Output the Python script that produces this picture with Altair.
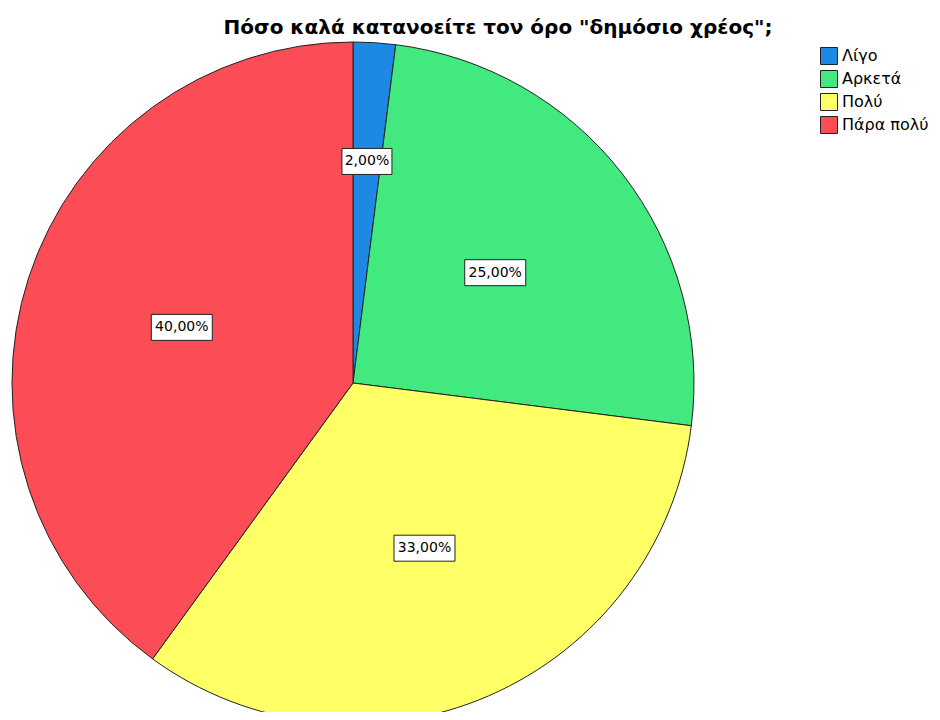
import altair as alt
import pandas as pd

categories = ["Λίγο", "Αρκετά", "Πολύ", "Πάρα πολύ"]
values = [2, 25, 33, 40]
colors = ["#1E88E5", "#42E97F", "#FFFF66", "#FC4D57"]

df = pd.DataFrame({"cat": categories, "value": values, "idx": list(range(len(values)))})

FONT = "DejaVu Sans"
CX, CY, R = 345, 345, 341

base = alt.Chart(df)

pie = base.mark_arc(outerRadius=R, stroke="#222222", strokeWidth=1).encode(
    theta=alt.Theta("value:Q", stack=True),
    color=alt.Color(
        "cat:N",
        sort=categories,
        scale=alt.Scale(domain=categories, range=colors),
        legend=alt.Legend(
            title=None,
            orient="none",
            legendX=812,
            legendY=9,
            symbolType="square",
            symbolSize=289,
            symbolStrokeColor="#222222",
            symbolStrokeWidth=1,
            symbolOpacity=1,
            labelFont=FONT,
            labelFontSize=16,
            labelColor="#000000",
            rowPadding=1,
            labelOffset=4,
        ),
    ),
    order=alt.Order("idx:Q"),
    x=alt.value(CX),
    y=alt.value(CY),
)

lab = (
    base.transform_joinaggregate(total="sum(value)")
    .transform_window(cum="sum(value)", sort=[alt.SortField("idx", order="ascending")], frame=[None, 0])
    .transform_calculate(
        a="2*PI*(datum.cum - datum.value/2)/datum.total",
        r="datum.value < 5 ? 222 : 180",
        label="replace(format(datum.value, '.2f'), '.', ',') + '%'",
    )
    .transform_calculate(
        px=f"{CX} + datum.r*sin(datum.a)",
        py=f"{CY} - datum.r*cos(datum.a)",
        w="11*length(datum.label) - 5",
    )
    .transform_calculate(
        x1="datum.px - datum.w/2",
        x2="datum.px + datum.w/2",
        y1="datum.py - 13",
        y2="datum.py + 13",
    )
)

boxes = lab.mark_rect(fill="white", stroke="#222222", strokeWidth=1).encode(
    x=alt.X("x1:Q", scale=None, axis=None),
    x2="x2:Q",
    y=alt.Y("y1:Q", scale=None, axis=None),
    y2="y2:Q",
)

texts = lab.mark_text(font=FONT, fontSize=14, color="#000000", align="center", baseline="middle").encode(
    x=alt.X("px:Q", scale=None, axis=None),
    y=alt.Y("py:Q", scale=None, axis=None),
    text="label:N",
)

chart = (
    alt.layer(pie, boxes, texts)
    .properties(
        width=924,
        height=674,
        autosize=alt.AutoSizeParams(type="none"),
        padding={"top": 30, "left": 0, "right": 0, "bottom": 0},
        title=alt.Title(
            'Πόσο καλά κατανοείτε τον όρο "δημόσιο χρέος";',
            font=FONT,
            fontSize=20,
            fontWeight="bold",
            color="#000000",
            anchor="middle",
            dx=28,
            offset=0,
        ),
    )
    .configure_view(stroke=None)
)

chart.save("out.html", embed_options={"renderer": "svg", "actions": False})
